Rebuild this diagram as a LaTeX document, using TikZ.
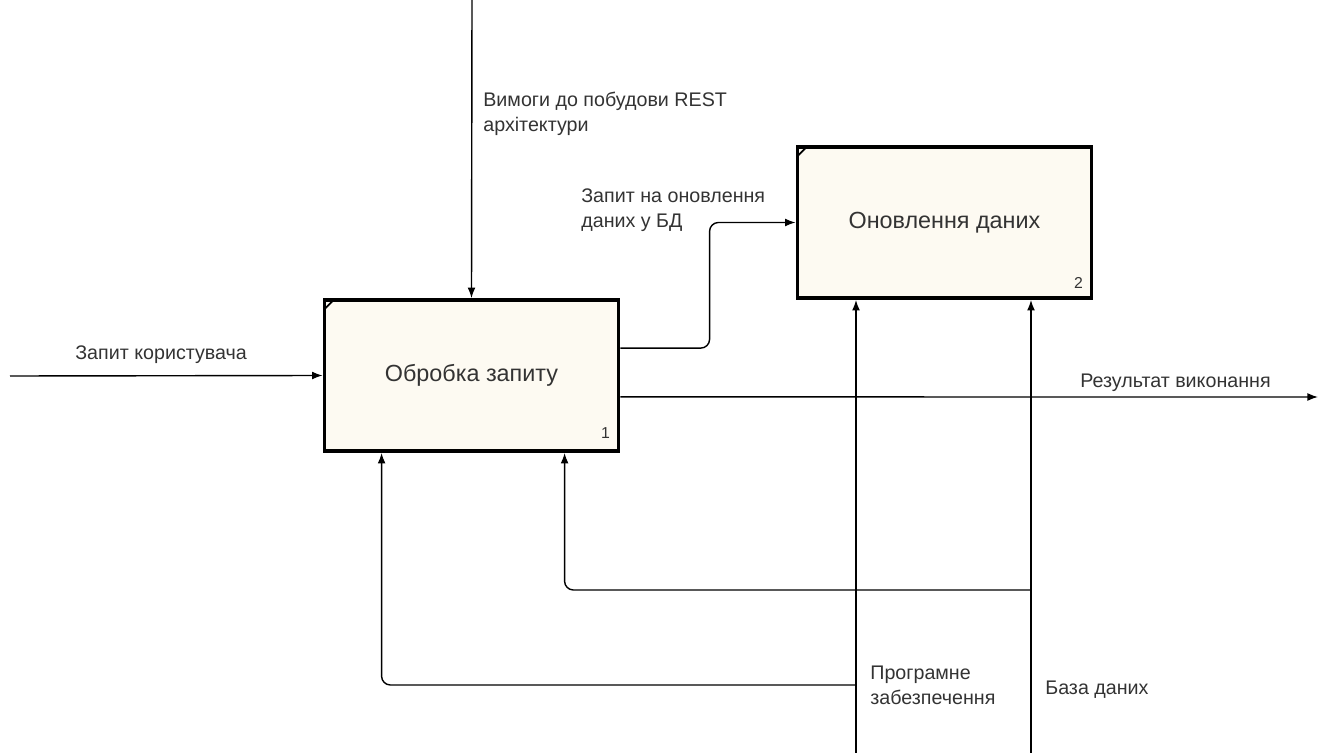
\documentclass[tikz,border=0pt]{standalone}
\usepackage{fontspec}
\setmainfont{Liberation Sans}
\usetikzlibrary{arrows.meta,calc}
\definecolor{boxfill}{HTML}{FDFAF2}
\definecolor{txt}{HTML}{333333}

\begin{document}
\begin{tikzpicture}[x=0.02cm,y=-0.02cm]
\tikzset{edge/.style = {->,>={Latex[length=6pt,width=4.5pt]},line width=0.8pt},
  func/.style = {draw,line width=2.2pt,fill=boxfill,minimum width=5.88cm,minimum height=3.02cm,font=\fontsize{13.3}{16}\selectfont,text=txt},
  num/.style = {font=\fontsize{9}{10}\selectfont,text=txt,inner sep=0pt},
  lbl/.style = {align=left,font=\fontsize{11.2}{14.2}\selectfont,text=txt,inner sep=0pt}}
\useasboundingbox (0,0) rectangle (1330,753);

\node[func] (obr) at (471.5,375.5) {Обробка запиту};
\node[func] (onov) at (944.5,222.5) {Оновлення даних};
\node[num] (n1) at ($(obr.south east)+(-15,-20)$) {1};
\node[num] (n2) at ($(onov.south east)+(-15,-17)$) {2};
\draw[line width=1pt] ($(obr.north west)+(2,11)$) -- ($(obr.north west)+(11,2)$);
\draw[line width=1pt] ($(onov.north west)+(2,11)$) -- ($(onov.north west)+(11,2)$);

\coordinate (inp) at (10,376);
\coordinate (ctl) at (472,0);
\coordinate (res) at (1318,397);
\coordinate (pz) at (856,753);
\coordinate (bd) at (1031,753);

\draw[edge] (inp) -- (obr.west);
\draw[edge] (ctl) -- (obr.north);
\draw[edge,rounded corners=5pt] ($(obr.north east)+(0,50)$) -| ($(onov.west)+(-86,0)$) -- (onov.west);
\draw[edge] ($(obr.south east)+(0,-56)$) -- (res);
\draw[edge] (pz) -- (pz |- onov.south);
\draw[edge] (bd) -- (bd |- onov.south);
\draw[edge,rounded corners=5pt] (pz |- 0,685) -| ($(obr.south west)+(59,0)$);
\draw[edge,rounded corners=5pt] (bd |- 0,590) -| ($(obr.south west)+(242,0)$);

\node[lbl,anchor=west] (lzk) at (75,355) {Запит користувача};
\node[lbl,anchor=west] (lvm) at (483,114) {Вимоги до побудови REST\\архітектури};
\node[lbl,anchor=west] (lzo) at (581,210) {Запит на оновлення\\даних у БД};
\node[lbl,anchor=west] (lrv) at (1080,383) {Результат виконання};
\node[lbl,anchor=west] (lpz) at (870,685) {Програмне\\забезпечення};
\node[lbl,anchor=west] (lbd) at (1045,690) {База даних};
\end{tikzpicture}
\end{document}
